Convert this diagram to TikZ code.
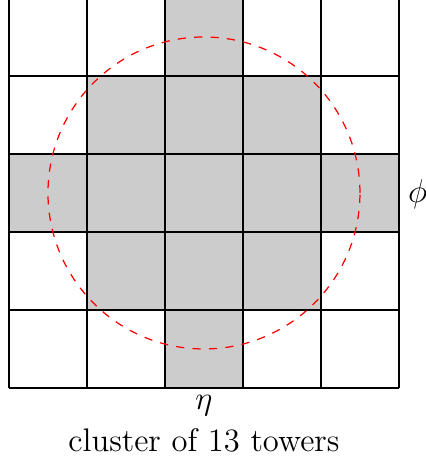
\documentclass[tikz,border=0pt]{standalone}
\begin{document}
\begin{tikzpicture}[every node/.style={font=\fontsize{11.9}{14}\selectfont}]
\tikzset{tower/.style={fill=black!20,draw=none},
  gridline/.style={line width=0.7pt},
  cone/.style={red,dashed,line width=0.45pt}}
\useasboundingbox (-0.115,-0.949) rectangle (5.346,4.974);
% shaded towers
\foreach \x/\y in {2/0,2/1,2/2,2/3,2/4,0/2,1/2,3/2,4/2,1/1,3/1,1/3,3/3}
  \fill[tower] (\x,\y) rectangle ++(1,1);
\draw[gridline] (0,0) grid (5,5);
\coordinate (c) at (2.5,2.5);
\draw[cone] (c) circle (2);
\node (phi) at (5.24,2.48) {$\phi$};
\node (eta) at (2.5,-0.22) {$\eta$};
\node (cap) at (2.5,-0.67) {cluster of 13 towers};
\end{tikzpicture}
\end{document}
